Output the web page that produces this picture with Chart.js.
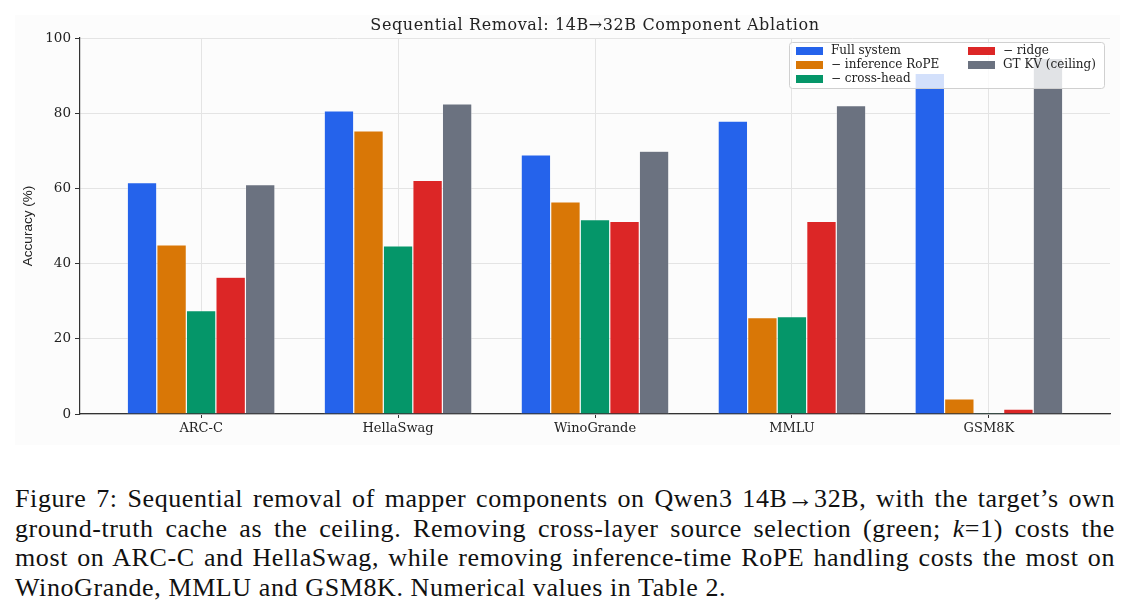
<!DOCTYPE html>
<html><head><meta charset="utf-8">
<script src="https://cdn.jsdelivr.net/npm/chart.js@4/dist/chart.umd.min.js"></script>
<style>
html,body{margin:0;padding:0;background:#fff;width:1130px;height:614px;overflow:hidden}
#wrap{position:relative;width:1130px;height:450px}
#cap{position:absolute;left:15px;top:484px;width:1100px;font-family:"Liberation Serif","Times New Roman",serif;font-size:26px;letter-spacing:0.6px;line-height:29.7px;color:#111}
#cap div{text-align:justify;text-align-last:justify;white-space:nowrap}
#cap div.last{text-align-last:left}
</style></head>
<body>
<div id="wrap"><canvas id="c" width="1130" height="450"></canvas></div>
<div id="cap">
<div>Figure 7: Sequential removal of mapper components on Qwen3 14B→32B, with the target’s own</div>
<div>ground-truth cache as the ceiling. Removing cross-layer source selection (green; <i>k</i>=1) costs the</div>
<div>most on ARC-C and HellaSwag, while removing inference-time RoPE handling costs the most on</div>
<div class="last">WinoGrande, MMLU and GSM8K. Numerical values in Table 2.</div>
</div>
<script>
const categories = ["ARC-C","HellaSwag","WinoGrande","MMLU","GSM8K"];
const seriesNames = ["Full system","− inference RoPE","− cross-head","− ridge","GT KV (ceiling)"];
const fullSystem = [61.5, 80.6, 68.9, 77.9, 90.6];
const noRope     = [45.0, 75.3, 56.4, 25.6, 4.0];
const noCross    = [27.5, 44.7, 51.7, 25.9, 0.3];
const noRidge    = [36.4, 62.1, 51.2, 51.2, 1.3];
const gtKV       = [61.0, 82.5, 69.9, 82.0, 94.6];
const yTicks = [0,20,40,60,80,100];
const colors = ["#2563eb","#d97706","#059669","#dc2626","#6b7280"];
const seriesValues = [fullSystem, noRope, noCross, noRidge, gtKV];

const datasets = seriesValues.map((vals,k)=>({
  label: seriesNames[k],
  data: vals.map((v,i)=>({x:i,y:v})),
  backgroundColor: colors[k],
  borderColor: "rgba(255,255,255,0.6)",
  borderWidth: 0.6,
  barPercentage: 1.0,
  categoryPercentage: 0.75
}));

const deco = {
  id:'deco',
  beforeDraw(chart){
    const ctx = chart.ctx;
    ctx.save();
    ctx.fillStyle = '#fcfcfc';
    ctx.fillRect(15,15,1105,430);
    ctx.restore();
  },
  afterDraw(chart){
    const ctx = chart.ctx, ca = chart.chartArea;
    ctx.save();
    // title
    ctx.fillStyle = '#222';
    ctx.font = '16px "DejaVu Serif"';
    if ('letterSpacing' in ctx) ctx.letterSpacing = '0.6px';
    ctx.textAlign = 'center'; ctx.textBaseline = 'middle';
    ctx.fillText('Sequential Removal: 14B→32B Component Ablation', (ca.left+ca.right)/2, 26);
    if ('letterSpacing' in ctx) ctx.letterSpacing = '0px';
    // y label
    ctx.translate(28,(ca.top+ca.bottom)/2);
    ctx.rotate(-Math.PI/2);
    ctx.font = '13.5px "Liberation Sans"';
    ctx.fillText('Accuracy (%)',0,0);
    ctx.restore();
    // legend
    ctx.save();
    const lx=789, ly=42, lw=315, lh=46;
    ctx.fillStyle='rgba(255,255,255,0.8)';
    ctx.strokeStyle='#d0d0d0'; ctx.lineWidth=1;
    ctx.beginPath();
    if (ctx.roundRect) ctx.roundRect(lx+0.5,ly+0.5,lw,lh,3); else ctx.rect(lx+0.5,ly+0.5,lw,lh);
    ctx.fill(); ctx.stroke();
    ctx.font='12px "DejaVu Serif"'; ctx.textAlign='left'; ctx.textBaseline='middle';
    const pos=[[0,0],[0,1],[0,2],[1,0],[1,1]];
    chart.data.datasets.forEach((ds,k)=>{
      const [col,row]=pos[k];
      const sx = col===0 ? 796 : 968;
      const sy = 51 + row*14;
      ctx.fillStyle=ds.backgroundColor;
      ctx.fillRect(sx, sy-4, 27, 8);
      ctx.fillStyle='#222';
      ctx.fillText(ds.label, sx+35, sy);
    });
    ctx.restore();
  }
};

new Chart(document.getElementById('c'),{
  type:'bar',
  data:{datasets},
  options:{
    responsive:false, animation:false,
    devicePixelRatio:1,
    layout:{padding:{left:0,right:20,top:38,bottom:0}},
    plugins:{legend:{display:false},tooltip:{enabled:false},title:{display:false}},
    scales:{
      x:{
        type:'linear', min:-0.615, max:4.615, offset:false,
        afterBuildTicks(s){ s.ticks = categories.map((_,i)=>({value:i})); },
        afterFit(s){ s.height = 36; },
        grid:{offset:false, color:'#e4e4e4', lineWidth:1, drawTicks:true, tickLength:4, tickColor:'#333'},
        border:{display:true,color:'#333',width:1.2},
        ticks:{callback:(v)=>categories[v], font:{family:'DejaVu Serif',size:13}, color:'#222', padding:3, maxRotation:0, autoSkip:false}
      },
      y:{
        min:0,max:100,
        afterBuildTicks(s){ s.ticks = yTicks.map(v=>({value:v})); },
        afterFit(s){ s.width = 80; },
        grid:{color:'#e4e4e4', lineWidth:1, drawTicks:true, tickLength:5, tickColor:'#333'},
        border:{display:true,color:'#333',width:1.2},
        ticks:{font:{family:'DejaVu Serif',size:13.5}, color:'#222', padding:4}
      }
    }
  },
  plugins:[deco]
});
</script>
</body></html>
